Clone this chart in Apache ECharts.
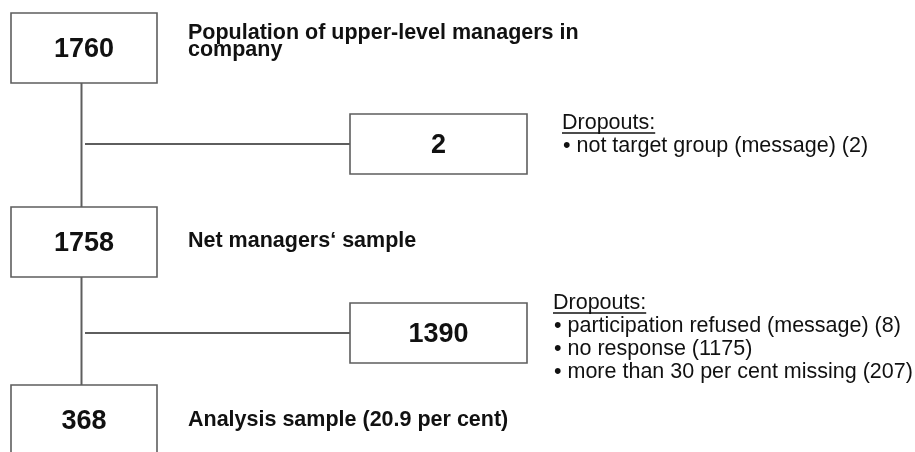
<!DOCTYPE html>
<html><head><meta charset="utf-8">
<script src="https://cdn.jsdelivr.net/npm/echarts@6/dist/echarts.min.js"></script>
<style>html,body{margin:0;padding:0;background:#fff}#c{width:915px;height:452px}</style>
</head><body><div id="c"></div>
<script>
// ---- data ----
const stageCounts = [1760, 1758, 368];
const stageLabels = [
  ['Population of upper-level managers in', 'company'],
  ['Net managers\u2018 sample'],
  ['Analysis sample (20.9 per cent)']
];
const dropoutCounts = [2, 1390];
const dropoutHeaders = ['Dropouts:', 'Dropouts:'];
const dropoutReasons = [
  ['not target group (message) (2)'],
  ['participation refused (message) (8)', 'no response (1175)', 'more than 30 per cent missing (207)']
];

// ---- layout (diagram units = pixels of the 915x452 frame) ----
const L = {
  stageX0: 11, stageX1: 157, stageTops: [13, 207, 385], stageH: 70,
  trunkX: 81.5,
  dropX0: 350, dropX1: 527, dropTops: [114, 303], dropH: 60,
  branchX0: 85,
  labelX: 188, labelY: [[33.5, 50.5], [241.5], [420.5]],
  reasonX: [562, 553], headerY: [123.5, 303.5], lineStep: 23,
  numDy: 1.5
};
const FONT = '"Liberation Sans", Arial, Helvetica, sans-serif';
const LINE = '#5e5e5e';
const TXT = '#111';

function measure(t, font) {
  const c = document.createElement('canvas').getContext('2d');
  c.font = font; return c.measureText(t).width;
}

const chart = echarts.init(document.getElementById('c'));

function stageItem(params, api) {
  const i = api.value(0);
  const top = L.stageTops[i];
  const p0 = api.coord([L.stageX0, top]);
  const p1 = api.coord([L.stageX1, top + L.stageH]);
  const children = [{
    type: 'rect',
    shape: { x: p0[0], y: p0[1], width: p1[0] - p0[0], height: p1[1] - p0[1] },
    style: { fill: '#fff', stroke: LINE, lineWidth: 1.6 }
  }, {
    type: 'text',
    style: { text: String(stageCounts[i]), x: (p0[0] + p1[0]) / 2, y: (p0[1] + p1[1]) / 2 + L.numDy,
      align: 'center', verticalAlign: 'middle', fill: TXT, font: 'bold 27px ' + FONT }
  }];
  stageLabels[i].forEach(function (ln, k) {
    const p = api.coord([L.labelX, L.labelY[i][k]]);
    children.push({ type: 'text', style: { text: ln, x: p[0], y: p[1], align: 'left', verticalAlign: 'middle',
      fill: TXT, font: 'bold 21.5px ' + FONT } });
  });
  return { type: 'group', children: children };
}

function trunkItem(params, api) {
  const i = api.value(0); // segment between stage i and i+1
  const a = api.coord([L.trunkX, L.stageTops[i] + L.stageH]);
  const b = api.coord([L.trunkX, L.stageTops[i + 1]]);
  return { type: 'line', shape: { x1: a[0], y1: a[1], x2: b[0], y2: b[1] },
    style: { stroke: LINE, lineWidth: 2 } };
}

function dropItem(params, api) {
  const i = api.value(0);
  const top = L.dropTops[i];
  const p0 = api.coord([L.dropX0, top]);
  const p1 = api.coord([L.dropX1, top + L.dropH]);
  const midY = (p0[1] + p1[1]) / 2;
  const bx = api.coord([L.branchX0, 0])[0];
  const children = [{
    type: 'line', shape: { x1: bx, y1: midY, x2: p0[0], y2: midY },
    style: { stroke: LINE, lineWidth: 2 }
  }, {
    type: 'rect',
    shape: { x: p0[0], y: p0[1], width: p1[0] - p0[0], height: p1[1] - p0[1] },
    style: { fill: '#fff', stroke: LINE, lineWidth: 1.6 }
  }, {
    type: 'text',
    style: { text: String(dropoutCounts[i]), x: (p0[0] + p1[0]) / 2, y: midY + L.numDy,
      align: 'center', verticalAlign: 'middle', fill: TXT, font: 'bold 27px ' + FONT }
  }];
  const hp = api.coord([L.reasonX[i], L.headerY[i]]);
  const hFont = '21.5px ' + FONT;
  children.push({ type: 'text', style: { text: dropoutHeaders[i], x: hp[0], y: hp[1], align: 'left',
    verticalAlign: 'middle', fill: TXT, font: hFont } });
  const w = measure(dropoutHeaders[i], hFont);
  children.push({ type: 'line', shape: { x1: hp[0], y1: hp[1] + 9.5, x2: hp[0] + w, y2: hp[1] + 9.5 },
    style: { stroke: TXT, lineWidth: 1.3 } });
  dropoutReasons[i].forEach(function (r, k) {
    const p = api.coord([L.reasonX[i] + 1, L.headerY[i] + L.lineStep * (k + 1)]);
    children.push({ type: 'text', style: { text: '\u2022 ' + r, x: p[0], y: p[1], align: 'left',
      verticalAlign: 'middle', fill: TXT, font: hFont } });
  });
  return { type: 'group', children: children };
}

chart.setOption({
  animation: false,
  grid: { left: 0, right: 0, top: 0, bottom: 0 },
  xAxis: { type: 'value', min: 0, max: 915, show: false },
  yAxis: { type: 'value', min: 0, max: 452, inverse: true, show: false },
  series: [
    { type: 'custom', silent: true, renderItem: trunkItem,
      data: stageCounts.slice(0, -1).map(function (v, i) { return [i]; }) },
    { type: 'custom', silent: true, renderItem: dropItem,
      data: dropoutCounts.map(function (v, i) { return [i]; }) },
    { type: 'custom', silent: true, renderItem: stageItem,
      data: stageCounts.map(function (v, i) { return [i]; }) }
  ]
});
</script></body></html>
